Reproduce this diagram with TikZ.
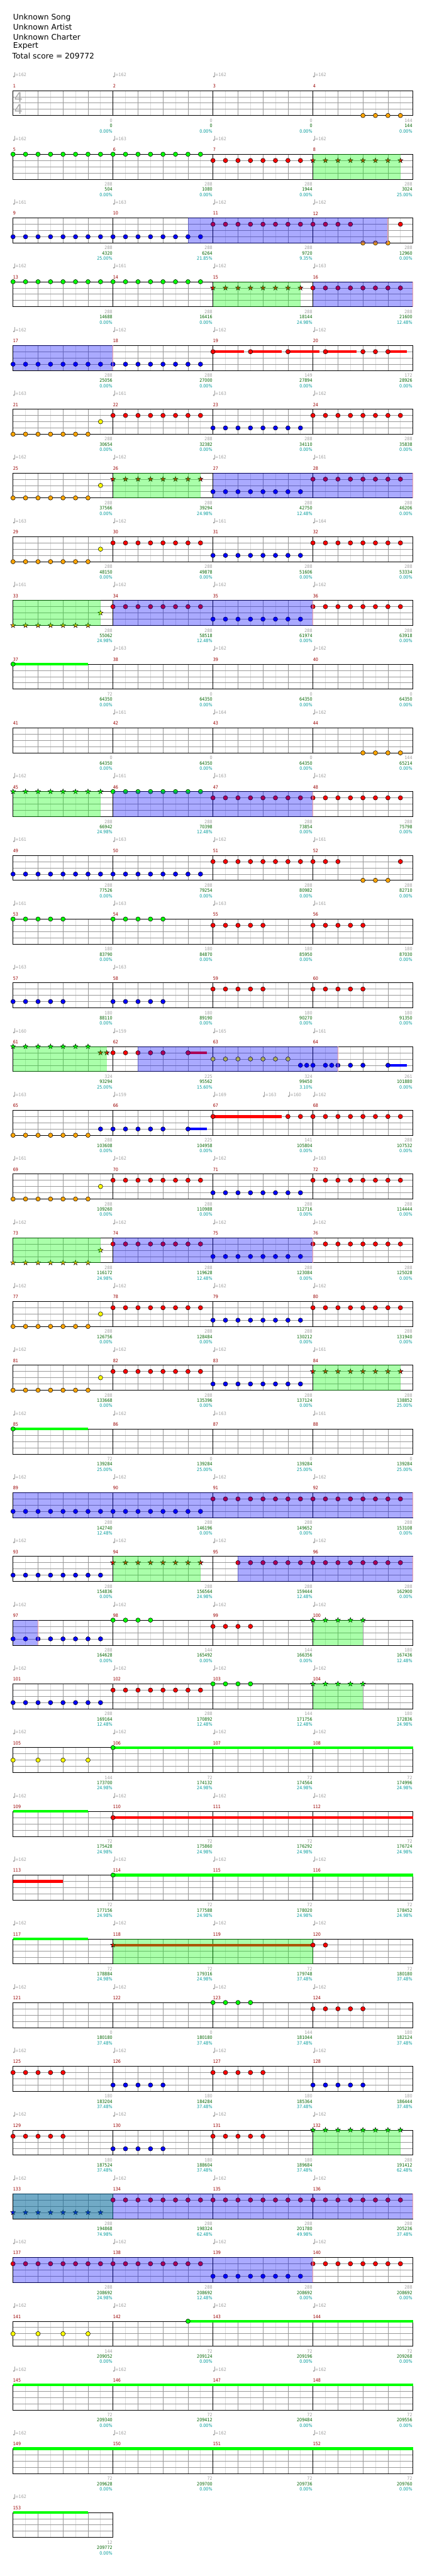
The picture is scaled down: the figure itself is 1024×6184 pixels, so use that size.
\documentclass[tikz,border=0pt]{standalone}
\usepackage{fontspec}
\setmainfont{DejaVu Sans}
\newfontfamily\smallf[FakeStretch=0.88]{DejaVu Sans}
\usetikzlibrary{shapes.geometric}
\definecolor{gG}{HTML}{00FF00}
\definecolor{gR}{HTML}{FF0000}
\definecolor{gY}{HTML}{FFFF00}
\definecolor{gB}{HTML}{0000FF}
\definecolor{gO}{HTML}{FFA500}
\definecolor{lightln}{HTML}{DDDDDD}
\definecolor{midln}{HTML}{999999}
\definecolor{tempoc}{HTML}{A0A0A0}
\definecolor{mnumc}{HTML}{990000}
\definecolor{scorec}{HTML}{006400}
\definecolor{pctc}{HTML}{009B9B}
\definecolor{salmonc}{HTML}{F4A0A0}
\definecolor{tsigc}{HTML}{AAAAAA}
\newcount\nodeid
\tikzset{
  autoname/.code={\global\advance\nodeid by 1\relax\pgfkeysalso{name/.expanded=nd\the\nodeid}},
  lightline/.style={draw=lightln, line width=1pt},
  midline/.style={draw=midln, line width=1pt},
  blkline/.style={draw=black, line width=1pt},
  smalltxt/.style={inner sep=0pt, font=\smallf\fontsize{11}{13}\selectfont},
  bigtxt/.style={inner sep=0pt, anchor=west, font=\fontsize{18.5}{22}\selectfont},
  notehead/.style={draw=black, line width=0.8pt},
  starnote/.style={star, star points=5, star point ratio=2.5, minimum size=12.5pt, inner sep=0pt, draw=black, line width=0.7pt},
  spzone/.style={fill=gG, fill opacity=0.333},
  actzone/.style={fill=gB, fill opacity=0.333},
}
% staff: row, number of measures
\newcommand\staff[2]{%
  \pgfmathsetmacro\rowY{217.3+153*(#1)}%
  \pgfmathtruncatemacro\rowQ{8*(#2)}%
  \pgfmathtruncatemacro\rowQm{\rowQ-1}%
  \pgfmathsetmacro\rowXR{31.3+30*\rowQ}%
  \foreach \i in {1,3,...,\rowQm} {\draw[lightline] ({31.3+30*\i},\rowY) -- ++(0,60);}
  \foreach \i in {2,4,...,\rowQm} {\draw[midline] ({31.3+30*\i},\rowY) -- ++(0,60);}
  \foreach \j in {1,2,3} {\draw[midline] (31.3,{\rowY+15*\j}) -- (\rowXR,{\rowY+15*\j});}
  \ifnum\rowQ>8
    \pgfmathtruncatemacro\rowQl{\rowQ-8}%
    \foreach \i in {8,16,...,\rowQl} {\draw[blkline] ({31.3+30*\i},\rowY) -- ++(0,60);}
  \fi
  \draw[blkline] (31.3,\rowY) rectangle (\rowXR,{\rowY+60});
}
\newcommand\nt[4]{\filldraw[notehead, fill=#4] ({31.3+30*(#2)},{217.3+153*(#1)+15*(#3)}) circle (5.3pt);}
\newcommand\nts[4]{\foreach \qq in {#2} {\nt{#1}{\qq}{#3}{#4}}}
\newcommand\st[4]{\node[starnote, fill=#4, autoname] at ({31.3+30*(#2)},{217.3+153*(#1)+15*(#3)}) {};}
\newcommand\sts[4]{\foreach \qq in {#2} {\st{#1}{\qq}{#3}{#4}}}
\newcommand\sus[5]{\fill[#5] ({31.3+30*(#2)},{217.3+153*(#1)+15*(#4)-3.4}) rectangle ({31.3+30*(#3)},{217.3+153*(#1)+15*(#4)+3.4});}
\newcommand\spz[3]{\fill[spzone] ({31.3+30*(#2)},{217.3+153*(#1)-0.5}) rectangle ({31.3+30*(#3)},{217.3+153*(#1)+60.5});}
\newcommand\acz[3]{\fill[actzone] ({31.3+30*(#2)},{217.3+153*(#1)-0.5}) rectangle ({31.3+30*(#3)},{217.3+153*(#1)+60.5});
  \draw[salmonc, line width=1pt] ({31.3+30*(#3)-0.5},{217.3+153*(#1)}) -- ++(0,60);}
\newcommand\tmp[3]{%
  \fill[tempoc] ({31.3+30*(#2)+2},{217.3+153*(#1)-33.6}) circle (2.1pt);
  \draw[tempoc, line width=0.8pt] ({31.3+30*(#2)+3.9},{217.3+153*(#1)-33.6}) -- ++(0,-10.5);
  \node[smalltxt, text=tempoc, anchor=west, autoname] at ({31.3+30*(#2)+5.2},{217.3+153*(#1)-37.3}) {=#3};}
\newcommand\tmpopt[3]{\if\relax\detokenize{#3}\relax\else\tmp{#1}{#2}{#3}\fi}
\newcommand\tmps[5]{\tmpopt{#1}{0}{#2}\tmpopt{#1}{8}{#3}\tmpopt{#1}{16}{#4}\tmpopt{#1}{24}{#5}}
\newcommand\mnums[2]{\foreach \m in {1,...,#2} {%
  \pgfmathtruncatemacro\mn{4*(#1)+\m}%
  \node[smalltxt, text=mnumc, anchor=west, autoname] at ({31.3+240*(\m-1)},{217.3+153*(#1)-11}) {\mn};}}
\newcommand\bnum[5]{%
  \node[smalltxt, text=tempoc, anchor=east, autoname] at ({31.3+240*(#2)+238.7},{217.3+153*(#1)+72}) {#3};
  \node[smalltxt, text=scorec, anchor=east, autoname] at ({31.3+240*(#2)+238.7},{217.3+153*(#1)+84.6}) {#4};
  \node[smalltxt, text=pctc, anchor=east, autoname] at ({31.3+240*(#2)+238.7},{217.3+153*(#1)+97.3}) {#5};}
\newcommand\patA[1]{\nts{#1}{0,...,6}{4}{gO}\nt{#1}{7}{2}{gY}\nts{#1}{8,...,15}{1}{gR}\nts{#1}{16,...,23}{3}{gB}}
\newcommand\patB[1]{\sts{#1}{0,...,6}{4}{gO}\st{#1}{7}{2}{gY}\nts{#1}{8,...,15}{1}{gR}\nts{#1}{16,...,23}{3}{gB}\nts{#1}{24,...,31}{1}{gR}\spz{#1}{0}{7}\acz{#1}{8}{24}}
\newcommand\zp{0.00\%}
\begin{document}
\begin{tikzpicture}[x=1pt,y=-1pt]
\useasboundingbox (0,0) rectangle (1024,6184);
\fill[white] (0,0) rectangle (1024,6184);
% header
\node[bigtxt, autoname] at (31.3,42.7) {Unknown Song};
\node[bigtxt, autoname] at (31.3,65.3) {Unknown Artist};
\node[bigtxt, autoname] at (31.3,88.3) {Unknown Charter};
\node[bigtxt, autoname] at (31.3,111) {Expert};
\node[bigtxt, autoname] at (29.5,134.3) {Total score = 209772};
% ---- row 0
\staff{0}{4}
\node[inner sep=0pt, text=tsigc, font=\fontsize{32}{32}\selectfont, autoname] at (44.5,233.3) {4};
\node[inner sep=0pt, text=tsigc, font=\fontsize{32}{32}\selectfont, autoname] at (44.5,261.7) {4};
\nts{0}{28,29,30,31}{4}{gO}
\tmps{0}{162}{162}{162}{162}\mnums{0}{4}
\bnum{0}{0}{0}{0}{\zp}\bnum{0}{1}{0}{0}{\zp}\bnum{0}{2}{0}{0}{\zp}\bnum{0}{3}{144}{144}{\zp}
% ---- row 1
\staff{1}{4}
\nts{1}{0,...,15}{0}{gG}\nts{1}{16,...,23}{1}{gR}\sts{1}{24,...,31}{1}{gR}\spz{1}{24}{31}
\tmps{1}{162}{163}{162}{162}\mnums{1}{4}
\bnum{1}{0}{288}{504}{\zp}\bnum{1}{1}{288}{1080}{\zp}\bnum{1}{2}{288}{1944}{\zp}\bnum{1}{3}{288}{3024}{25.00\%}
% ---- row 2
\staff{2}{4}
\nts{2}{0,...,15}{3}{gB}\nts{2}{16,...,27}{1}{gR}\nts{2}{28,29,30}{4}{gO}\nt{2}{31}{1}{gR}\acz{2}{14}{30}
\tmps{2}{161}{163}{162}{162}\mnums{2}{4}
\bnum{2}{0}{288}{4320}{25.00\%}\bnum{2}{1}{288}{6264}{21.85\%}\bnum{2}{2}{288}{9720}{9.35\%}\bnum{2}{3}{288}{12960}{\zp}
% ---- row 3
\staff{3}{4}
\nts{3}{0,...,15}{0}{gG}\sts{3}{16,...,23}{1}{gR}\spz{3}{16}{23}\nts{3}{24,...,31}{1}{gR}\acz{3}{24}{32}
\tmps{3}{162}{161}{162}{163}\mnums{3}{4}
\bnum{3}{0}{288}{14688}{\zp}\bnum{3}{1}{288}{16416}{\zp}\bnum{3}{2}{288}{18144}{24.98\%}\bnum{3}{3}{288}{21600}{12.48\%}
% ---- row 4
\staff{4}{4}
\nts{4}{0,...,15}{3}{gB}\acz{4}{0}{8}
\sus{4}{16}{18.5}{1}{gR}\sus{4}{19}{21.5}{1}{gR}\sus{4}{22}{24.5}{1}{gR}\sus{4}{25}{27.5}{1}{gR}\sus{4}{30}{31.5}{1}{gR}
\nts{4}{16,19,22,25,28,29,30}{1}{gR}
\tmps{4}{162}{162}{162}{162}\mnums{4}{4}
\bnum{4}{0}{288}{25056}{\zp}\bnum{4}{1}{288}{27000}{\zp}\bnum{4}{2}{149}{27894}{\zp}\bnum{4}{3}{172}{28926}{\zp}
% ---- row 5
\staff{5}{4}
\patA{5}\nts{5}{24,...,31}{1}{gR}
\tmps{5}{163}{161}{163}{162}\mnums{5}{4}
\bnum{5}{0}{288}{30654}{\zp}\bnum{5}{1}{288}{32382}{\zp}\bnum{5}{2}{288}{34110}{\zp}\bnum{5}{3}{288}{35838}{\zp}
% ---- row 6
\staff{6}{4}
\nts{6}{0,...,6}{4}{gO}\nt{6}{7}{2}{gY}\sts{6}{8,...,15}{1}{gR}\spz{6}{8}{15}\nts{6}{16,...,23}{3}{gB}\nts{6}{24,...,31}{1}{gR}\acz{6}{16}{32}
\tmps{6}{162}{162}{162}{161}\mnums{6}{4}
\bnum{6}{0}{288}{37566}{\zp}\bnum{6}{1}{288}{39294}{24.98\%}\bnum{6}{2}{288}{42750}{12.48\%}\bnum{6}{3}{288}{46206}{\zp}
% ---- row 7
\staff{7}{4}
\patA{7}\nts{7}{24,...,31}{1}{gR}
\tmps{7}{163}{162}{161}{164}\mnums{7}{4}
\bnum{7}{0}{288}{48150}{\zp}\bnum{7}{1}{288}{49878}{\zp}\bnum{7}{2}{288}{51606}{\zp}\bnum{7}{3}{288}{53334}{\zp}
% ---- row 8
\staff{8}{4}
\patB{8}
\tmps{8}{161}{162}{162}{162}\mnums{8}{4}
\bnum{8}{0}{288}{55062}{24.98\%}\bnum{8}{1}{288}{58518}{12.48\%}\bnum{8}{2}{288}{61974}{\zp}\bnum{8}{3}{288}{63918}{\zp}
% ---- row 9
\staff{9}{4}
\sus{9}{0}{6}{0}{gG}\nt{9}{0}{0}{gG}
\tmps{9}{}{163}{162}{162}\mnums{9}{4}
\bnum{9}{0}{72}{64350}{\zp}\bnum{9}{1}{0}{64350}{\zp}\bnum{9}{2}{0}{64350}{\zp}\bnum{9}{3}{0}{64350}{\zp}
% ---- row 10
\staff{10}{4}
\nts{10}{28,...,31}{4}{gO}
\tmps{10}{}{161}{164}{162}\mnums{10}{4}
\bnum{10}{0}{0}{64350}{\zp}\bnum{10}{1}{0}{64350}{\zp}\bnum{10}{2}{0}{64350}{\zp}\bnum{10}{3}{144}{65214}{\zp}
% ---- row 11
\staff{11}{4}
\sts{11}{0,...,7}{0}{gG}\spz{11}{0}{7}\nts{11}{8,...,15}{0}{gG}\nts{11}{16,...,31}{1}{gR}\acz{11}{8}{24}
\tmps{11}{162}{161}{163}{162}\mnums{11}{4}
\bnum{11}{0}{288}{66942}{24.98\%}\bnum{11}{1}{288}{70398}{12.48\%}\bnum{11}{2}{288}{73854}{\zp}\bnum{11}{3}{288}{75798}{\zp}
% ---- row 12
\staff{12}{4}
\nts{12}{0,...,15}{3}{gB}\nts{12}{16,...,26}{1}{gR}\nts{12}{28,29,30}{4}{gO}\nt{12}{31}{1}{gR}
\tmps{12}{161}{163}{162}{161}\mnums{12}{4}
\bnum{12}{0}{288}{77526}{\zp}\bnum{12}{1}{288}{79254}{\zp}\bnum{12}{2}{288}{80982}{\zp}\bnum{12}{3}{288}{82710}{\zp}
% ---- row 13
\staff{13}{4}
\nts{13}{0,1,2,3,4,8,9,10,11,12}{0}{gG}\nts{13}{16,17,18,19,20,24,25,26,27,28}{1}{gR}
\tmps{13}{161}{163}{163}{161}\mnums{13}{4}
\bnum{13}{0}{180}{83790}{\zp}\bnum{13}{1}{180}{84870}{\zp}\bnum{13}{2}{180}{85950}{\zp}\bnum{13}{3}{180}{87030}{\zp}
% ---- row 14
\staff{14}{4}
\nts{14}{0,1,2,3,4,8,9,10,11,12}{3}{gB}\nts{14}{16,17,18,19,20,24,25,26,27,28}{1}{gR}
\tmps{14}{163}{163}{}{}\mnums{14}{4}
\bnum{14}{0}{180}{88110}{\zp}\bnum{14}{1}{180}{89190}{\zp}\bnum{14}{2}{180}{90270}{\zp}\bnum{14}{3}{180}{91350}{\zp}
% ---- row 15
\staff{15}{4}
\sts{15}{0,...,6}{0}{gG}\st{15}{7}{1}{gR}\st{15}{7.5}{1}{gR}\spz{15}{0}{7.5}
\nts{15}{8,9,10,11,12}{1}{gR}\sus{15}{14}{15.5}{1}{gR}\nt{15}{14}{1}{gR}
\nts{15}{16,...,22}{2}{gY}
\sus{15}{30}{31.5}{3}{gB}\nts{15}{23,23.5,24,25,25.5,26,27,28,30}{3}{gB}
\acz{15}{10}{26}
\tmps{15}{160}{159}{165}{161}\mnums{15}{4}
\bnum{15}{0}{324}{93294}{25.00\%}\bnum{15}{1}{225}{95562}{15.60\%}\bnum{15}{2}{324}{99450}{3.10\%}\bnum{15}{3}{261}{101880}{\zp}
% ---- row 16
\staff{16}{4}
\nts{16}{0,...,6}{4}{gO}\nts{16}{7,8,9,10,11,12}{3}{gB}\sus{16}{14}{15.5}{3}{gB}\nt{16}{14}{3}{gB}
\sus{16}{16}{21.5}{1}{gR}\nts{16}{16,22,23,...,31}{1}{gR}
\tmp{16}{0}{163}\tmp{16}{8}{159}\tmp{16}{16}{169}\tmp{16}{20}{163}\tmp{16}{22}{160}\tmp{16}{24}{162}\mnums{16}{4}
\bnum{16}{0}{288}{103608}{\zp}\bnum{16}{1}{225}{104958}{\zp}\bnum{16}{2}{141}{105804}{\zp}\bnum{16}{3}{288}{107532}{\zp}
% ---- row 17
\staff{17}{4}
\patA{17}\nts{17}{24,...,31}{1}{gR}
\tmps{17}{161}{162}{162}{163}\mnums{17}{4}
\bnum{17}{0}{288}{109260}{\zp}\bnum{17}{1}{288}{110988}{\zp}\bnum{17}{2}{288}{112716}{\zp}\bnum{17}{3}{288}{114444}{\zp}
% ---- row 18
\staff{18}{4}
\patB{18}
\tmps{18}{162}{162}{162}{162}\mnums{18}{4}
\bnum{18}{0}{288}{116172}{24.98\%}\bnum{18}{1}{288}{119628}{12.48\%}\bnum{18}{2}{288}{123084}{\zp}\bnum{18}{3}{288}{125028}{\zp}
% ---- row 19
\staff{19}{4}
\patA{19}\nts{19}{24,...,31}{1}{gR}
\tmps{19}{162}{162}{162}{162}\mnums{19}{4}
\bnum{19}{0}{288}{126756}{\zp}\bnum{19}{1}{288}{128484}{\zp}\bnum{19}{2}{288}{130212}{\zp}\bnum{19}{3}{288}{131940}{\zp}
% ---- row 20
\staff{20}{4}
\patA{20}\sts{20}{24,...,31}{1}{gR}\spz{20}{24}{31}
\tmps{20}{162}{162}{162}{161}\mnums{20}{4}
\bnum{20}{0}{288}{133668}{\zp}\bnum{20}{1}{288}{135396}{\zp}\bnum{20}{2}{288}{137124}{\zp}\bnum{20}{3}{288}{138852}{25.00\%}
% ---- row 21
\staff{21}{4}
\sus{21}{0}{6}{0}{gG}\nt{21}{0}{0}{gG}
\tmps{21}{162}{162}{163}{161}\mnums{21}{4}
\bnum{21}{0}{72}{139284}{25.00\%}\bnum{21}{1}{0}{139284}{25.00\%}\bnum{21}{2}{0}{139284}{25.00\%}\bnum{21}{3}{0}{139284}{25.00\%}
% ---- row 22 (89-92)
\staff{22}{4}
\nts{22}{0,...,15}{3}{gB}\nts{22}{16,...,31}{1}{gR}\acz{22}{0}{32}
\tmps{22}{162}{162}{162}{162}\mnums{22}{4}
\bnum{22}{0}{288}{142740}{12.48\%}\bnum{22}{1}{288}{146196}{\zp}\bnum{22}{2}{288}{149652}{\zp}\bnum{22}{3}{288}{153108}{\zp}
% ---- row 23 (93-96)
\staff{23}{4}
\nts{23}{0,...,7}{3}{gB}\sts{23}{8,...,15}{1}{gR}\spz{23}{8}{15}\nts{23}{18,...,31}{1}{gR}\acz{23}{18}{32}
\tmps{23}{162}{162}{162}{162}\mnums{23}{4}
\bnum{23}{0}{288}{154836}{\zp}\bnum{23}{1}{288}{156564}{24.98\%}\bnum{23}{2}{288}{159444}{12.48\%}\bnum{23}{3}{288}{162900}{\zp}
% ---- row 24 (97-100)
\staff{24}{4}
\nts{24}{0,...,7}{3}{gB}\acz{24}{0}{2}\nts{24}{8,...,11}{0}{gG}\nts{24}{16,...,19}{1}{gR}\sts{24}{24,...,28}{0}{gG}\spz{24}{24}{28}
\tmps{24}{162}{162}{162}{162}\mnums{24}{4}
\bnum{24}{0}{288}{164628}{\zp}\bnum{24}{1}{144}{165492}{\zp}\bnum{24}{2}{144}{166356}{\zp}\bnum{24}{3}{180}{167436}{12.48\%}
% ---- row 25 (101-104)
\staff{25}{4}
\nts{25}{0,...,7}{3}{gB}\nts{25}{8,...,15}{1}{gR}\nts{25}{16,...,19}{0}{gG}\sts{25}{24,...,28}{0}{gG}\spz{25}{24}{28}
\tmps{25}{162}{162}{162}{162}\mnums{25}{4}
\bnum{25}{0}{288}{169164}{12.48\%}\bnum{25}{1}{288}{170892}{12.48\%}\bnum{25}{2}{144}{171756}{12.48\%}\bnum{25}{3}{180}{172836}{24.98\%}
% ---- row 26 (105-108)
\staff{26}{4}
\nts{26}{0,2,4,6}{2}{gY}\sus{26}{8}{32}{0}{gG}\nt{26}{8}{0}{gG}
\tmps{26}{162}{162}{162}{162}\mnums{26}{4}
\bnum{26}{0}{144}{173700}{24.98\%}\bnum{26}{1}{72}{174132}{24.98\%}\bnum{26}{2}{72}{174564}{24.98\%}\bnum{26}{3}{72}{174996}{24.98\%}
% ---- row 27 (109-112)
\staff{27}{4}
\sus{27}{0}{6}{0}{gG}\sus{27}{8}{32}{1}{gR}\nt{27}{8}{1}{gR}
\tmps{27}{162}{162}{162}{162}\mnums{27}{4}
\bnum{27}{0}{72}{175428}{24.98\%}\bnum{27}{1}{72}{175860}{24.98\%}\bnum{27}{2}{72}{176292}{24.98\%}\bnum{27}{3}{72}{176724}{24.98\%}
% ---- row 28 (113-116)
\staff{28}{4}
\sus{28}{0}{4}{1}{gR}\sus{28}{8}{32}{0}{gG}\nt{28}{8}{0}{gG}
\tmps{28}{162}{162}{162}{162}\mnums{28}{4}
\bnum{28}{0}{72}{177156}{24.98\%}\bnum{28}{1}{72}{177588}{24.98\%}\bnum{28}{2}{72}{178020}{24.98\%}\bnum{28}{3}{72}{178452}{24.98\%}
% ---- row 29 (117-120)
\staff{29}{4}
\sus{29}{0}{6}{0}{gG}\sus{29}{8}{24}{1}{gR}\st{29}{8}{1}{gR}\spz{29}{8}{24}\nts{29}{24,25}{1}{gR}
\tmps{29}{162}{162}{162}{162}\mnums{29}{4}
\bnum{29}{0}{72}{178884}{24.98\%}\bnum{29}{1}{72}{179316}{24.98\%}\bnum{29}{2}{72}{179748}{37.48\%}\bnum{29}{3}{72}{180180}{37.48\%}
% ---- row 30 (121-124)
\staff{30}{4}
\nts{30}{16,17,18,19}{0}{gG}\nts{30}{24,...,28}{1}{gR}
\tmps{30}{162}{162}{162}{162}\mnums{30}{4}
\bnum{30}{0}{0}{180180}{37.48\%}\bnum{30}{1}{0}{180180}{37.48\%}\bnum{30}{2}{144}{181044}{37.48\%}\bnum{30}{3}{180}{182124}{37.48\%}
% ---- row 31 (125-128)
\staff{31}{4}
\nts{31}{0,...,4}{1}{gR}\nts{31}{8,...,12}{3}{gB}\nts{31}{16,...,20}{1}{gR}\nts{31}{24,...,28}{3}{gB}
\tmps{31}{162}{162}{162}{162}\mnums{31}{4}
\bnum{31}{0}{180}{183204}{37.48\%}\bnum{31}{1}{180}{184284}{37.48\%}\bnum{31}{2}{180}{185364}{37.48\%}\bnum{31}{3}{180}{186444}{37.48\%}
% ---- row 32 (129-132)
\staff{32}{4}
\nts{32}{0,...,4}{1}{gR}\nts{32}{8,...,12}{3}{gB}\nts{32}{16,...,20}{1}{gR}\sts{32}{24,...,31}{0}{gG}\spz{32}{24}{31}
\tmps{32}{162}{162}{162}{162}\mnums{32}{4}
\bnum{32}{0}{180}{187524}{37.48\%}\bnum{32}{1}{180}{188604}{37.48\%}\bnum{32}{2}{180}{189684}{37.48\%}\bnum{32}{3}{288}{191412}{62.48\%}
% ---- row 33 (133-136)
\staff{33}{4}
\sts{33}{0,...,7}{3}{gB}\spz{33}{0}{8}\nts{33}{8,...,31}{1}{gR}\acz{33}{0}{32}
\tmps{33}{162}{162}{162}{162}\mnums{33}{4}
\bnum{33}{0}{288}{194868}{74.98\%}\bnum{33}{1}{288}{198324}{62.48\%}\bnum{33}{2}{288}{201780}{49.98\%}\bnum{33}{3}{288}{205236}{37.48\%}
% ---- row 34 (137-140)
\staff{34}{4}
\nts{34}{0,...,15}{1}{gR}\nts{34}{16,...,23}{3}{gB}\nts{34}{24,...,31}{1}{gR}\acz{34}{0}{24}
\tmps{34}{162}{162}{162}{162}\mnums{34}{4}
\bnum{34}{0}{288}{208692}{24.98\%}\bnum{34}{1}{288}{208692}{12.48\%}\bnum{34}{2}{288}{208692}{\zp}\bnum{34}{3}{288}{208692}{\zp}
% ---- row 35 (141-144)
\staff{35}{4}
\nts{35}{0,2,4,6}{2}{gY}\sus{35}{14}{32}{0}{gG}\nt{35}{14}{0}{gG}
\tmps{35}{162}{162}{162}{162}\mnums{35}{4}
\bnum{35}{0}{144}{209052}{\zp}\bnum{35}{1}{72}{209124}{\zp}\bnum{35}{2}{72}{209196}{\zp}\bnum{35}{3}{72}{209268}{\zp}
% ---- row 36 (145-148)
\staff{36}{4}
\sus{36}{0}{32}{0}{gG}
\tmps{36}{162}{162}{162}{162}\mnums{36}{4}
\bnum{36}{0}{72}{209340}{\zp}\bnum{36}{1}{72}{209412}{\zp}\bnum{36}{2}{72}{209484}{\zp}\bnum{36}{3}{72}{209556}{\zp}
% ---- row 37 (149-152)
\staff{37}{4}
\sus{37}{0}{32}{0}{gG}
\tmps{37}{162}{162}{162}{162}\mnums{37}{4}
\bnum{37}{0}{72}{209628}{\zp}\bnum{37}{1}{72}{209700}{\zp}\bnum{37}{2}{72}{209736}{\zp}\bnum{37}{3}{72}{209760}{\zp}
% ---- row 38 (153)
\staff{38}{1}
\sus{38}{0}{6}{0}{gG}
\tmps{38}{162}{}{}{}\mnums{38}{1}
\bnum{38}{0}{12}{209772}{\zp}
\end{tikzpicture}
\end{document}
